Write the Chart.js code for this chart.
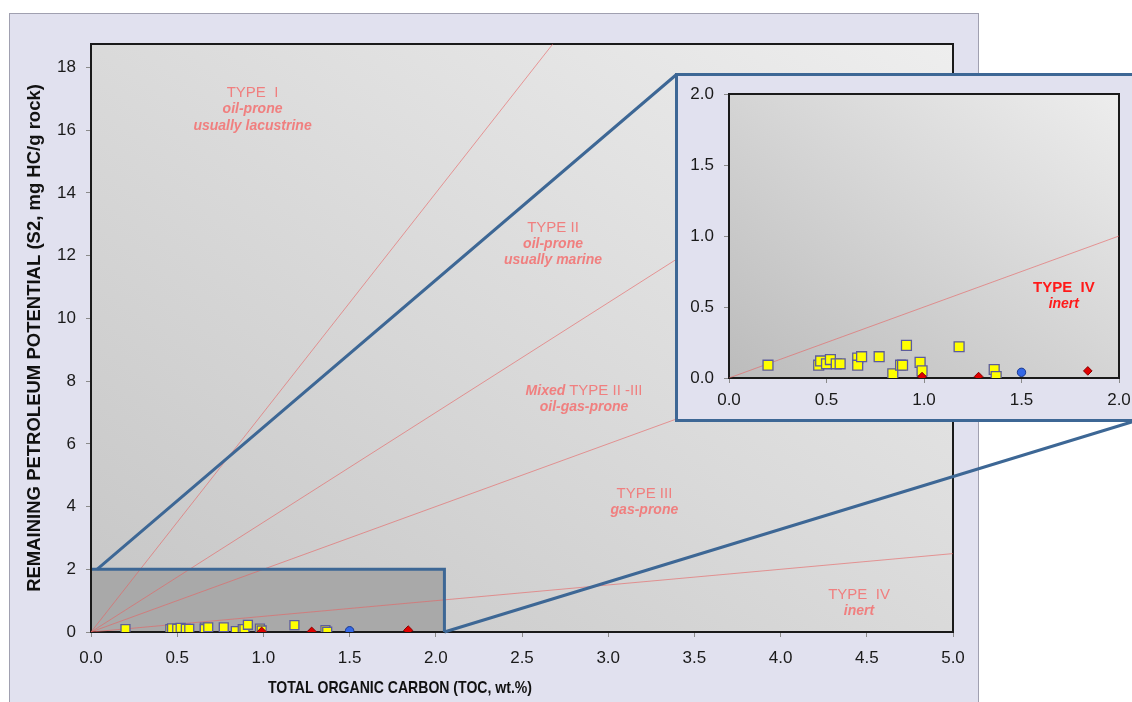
<!DOCTYPE html>
<html><head><meta charset="utf-8">
<script src="https://cdn.jsdelivr.net/npm/chart.js@4.4.1/dist/chart.umd.min.js"></script>
<style>
html,body{margin:0;padding:0;background:#fff;overflow:hidden;width:1132px;height:702px;}
#mainWrap{position:absolute;left:0;top:0;width:1132px;height:702px;}
#insetWrap{position:absolute;left:675px;top:73px;width:463px;height:349px;}
canvas{display:block;}
</style></head><body>
<div id="mainWrap"><canvas id="main" width="1132" height="702"></canvas></div>
<div id="insetWrap"><canvas id="inset" width="463" height="349"></canvas></div>
<script>
// ---------------- data ----------------
const yellowTOC = [0.20,0.46,0.47,0.50,0.52,0.55,0.57,0.66,0.66,0.68,0.77,0.84,0.88,0.89,0.91,0.98,0.99,1.18,1.36,1.37];
const yellowS2  = [0.09,0.09,0.12,0.10,0.13,0.10,0.10,0.14,0.09,0.15,0.15,0.03,0.09,0.09,0.23,0.11,0.05,0.22,0.06,0.01];
const redTOC  = [0.99,1.28,1.84];
const redS2   = [0.01,0.01,0.05];
const blueTOC = [1.50];
const blueS2  = [0.04];
// kerogen type boundary lines from the origin (end points; clipped by the plot)
const boundaryEndX = [5, 5, 5, 5];
const boundaryEndY = [35, 17.5, 10, 2.5];
// tick labels
const mainXTicks = [0,0.5,1,1.5,2,2.5,3,3.5,4,4.5,5];
const mainYTicks = [0,2,4,6,8,10,12,14,16,18];
const insetTicks = [0,0.5,1,1.5,2];
// zoomed region (data units)
const zoomBoxX = [0, 2.05];
const zoomBoxY = [0, 2.0];

const xTitle = 'TOTAL ORGANIC CARBON (TOC, wt.%)';
const yTitle = 'REMAINING PETROLEUM POTENTIAL (S2, mg HC/g rock)';

// region labels (anchor in data units)
const mainLabels = [
  {x:0.937, y:17.19, lines:[[['TYPE  I','r']],[['oil-prone','bi']],[['usually lacustrine','bi']]]},
  {x:2.68,  y:12.90, lines:[[['TYPE II','r']],[['oil-prone','bi']],[['usually marine','bi']]]},
  {x:2.86,  y:7.69,  lines:[[['Mixed ','bi'],['TYPE II -III','r']],[['oil-gas-prone','bi']]]},
  {x:3.21,  y:4.40,  lines:[[['TYPE III','r']],[['gas-prone','bi']]]},
  {x:4.455, y:1.20,  lines:[[['TYPE  IV','r']],[['inert','bi']]]}
];
const insetLabels = [
  {x:1.717, y:0.632, lines:[[['TYPE  IV','b']],[['inert','bi']]]}
];

// ---------------- helpers ----------------
const SANS = "'Liberation Sans', Arial, sans-serif";
const NARROW = "'Liberation Sans Narrow', 'Arial Narrow', 'Liberation Sans', sans-serif";
Chart.defaults.font.family = SANS;
const FONTS = {
  r: "15px " + SANS,
  b: "bold 15px " + SANS,
  bi: "italic bold 14px " + SANS
};
function pts(xs, ys){ return xs.map((v,i)=>({x:v, y:ys[i]})); }

function diagGradient(ctx, a, c0, c1){
  const W=a.right-a.left, H=a.bottom-a.top;
  const gx=1/(2*W), gy=1/(2*H);
  const g2=gx*gx+gy*gy;
  const dx=gx/g2, dy=gy/g2;
  const grad=ctx.createLinearGradient(a.left, a.bottom, a.left+dx, a.bottom-dy);
  grad.addColorStop(0,c0); grad.addColorStop(1,c1);
  return grad;
}
function drawLabels(ctx, xs, ys, labels, color, spacing){
  ctx.save();
  ctx.fillStyle=color; ctx.textBaseline='middle'; ctx.textAlign='left';
  labels.forEach(L=>{
    const cx=xs.getPixelForValue(L.x), cy0=ys.getPixelForValue(L.y);
    L.lines.forEach((segs,i)=>{
      let total=0; const ws=[];
      segs.forEach(s=>{ctx.font=FONTS[s[1]]; const w=ctx.measureText(s[0]).width; ws.push(w); total+=w;});
      let x=cx-total/2; const y=cy0+i*spacing;
      segs.forEach((s,j)=>{ctx.font=FONTS[s[1]]; ctx.fillText(s[0],x,y); x+=ws[j];});
    });
  });
  ctx.restore();
}
function pointSets(sq, dia, circ){
  return [
    {label:'blue', data:pts(blueTOC,blueS2), pointStyle:'circle', pointRadius:circ,
     backgroundColor:'#3468e6', borderColor:'#1d3a8f', borderWidth:1},
    {label:'red', data:pts(redTOC,redS2), pointStyle:'rectRot', pointRadius:dia,
     backgroundColor:'#e00000', borderColor:'#8a0000', borderWidth:1},
    {label:'yellow', data:pts(yellowTOC,yellowS2), pointStyle:'rect', pointRadius:sq,
     backgroundColor:'#ffff00', borderColor:'#5c5c9c', borderWidth:1.3}
  ];
}
function boundarySet(i){
  return {label:'b'+i, data:[{x:0,y:0},{x:boundaryEndX[i],y:boundaryEndY[i]}], showLine:true,
    borderColor:'rgba(232,96,96,0.6)', borderWidth:1, pointRadius:0, fill:false, tension:0};
}
function tickScale(values, opts){
  return Object.assign({
    type:'linear',
    afterBuildTicks:s=>{ s.ticks = values.map(v=>({value:v})); },
    grid:{display:true, drawOnChartArea:false, drawTicks:true, tickLength:5, color:'#8a8a8a', lineWidth:1},
    border:{display:false}
  }, opts);
}

// ---------------- main chart ----------------
const insetWrap = document.getElementById('insetWrap');
const mainDecor = {
  id:'mainDecor',
  beforeDraw(chart){
    const {ctx, chartArea:a, scales:{x,y}} = chart;
    ctx.save();
    ctx.fillStyle='#ffffff'; ctx.fillRect(0,0,chart.width,chart.height);
    ctx.fillStyle='#e1e1ef'; ctx.fillRect(9,13,970,700);
    ctx.strokeStyle='#a0a0b0'; ctx.lineWidth=1; ctx.strokeRect(9.5,13.5,969,700);
    ctx.fillStyle=diagGradient(ctx,a,'#c6c6c6','#eeeeee');
    ctx.fillRect(a.left,a.top,a.right-a.left,a.bottom-a.top);
    const rx0=x.getPixelForValue(zoomBoxX[0]), rx1=x.getPixelForValue(zoomBoxX[1]);
    const ry0=y.getPixelForValue(zoomBoxY[0]), ry1=y.getPixelForValue(zoomBoxY[1]);
    ctx.fillStyle='#a9a9a9'; ctx.fillRect(rx0,ry1,rx1-rx0,ry0-ry1);
    ctx.restore();
  },
  beforeDatasetsDraw(chart){
    const {ctx, chartArea:a} = chart;
    ctx.save(); ctx.strokeStyle='#1a1a1a'; ctx.lineWidth=2;
    ctx.strokeRect(a.left,a.top,a.right-a.left,a.bottom-a.top); ctx.restore();
  },
  afterDatasetsDraw(chart){
    const {ctx, scales:{x,y}} = chart;
    const rx0=x.getPixelForValue(zoomBoxX[0]), rx1=x.getPixelForValue(zoomBoxX[1]);
    const ry0=y.getPixelForValue(zoomBoxY[0]), ry1=y.getPixelForValue(zoomBoxY[1]);
    const L=insetWrap.offsetLeft, T=insetWrap.offsetTop, W=insetWrap.offsetWidth, H=insetWrap.offsetHeight;
    ctx.save();
    ctx.strokeStyle='#3d6795'; ctx.lineWidth=3; ctx.lineJoin='miter';
    ctx.beginPath();
    ctx.moveTo(rx0+1, ry1); ctx.lineTo(rx1, ry1); ctx.lineTo(rx1, ry0);
    ctx.stroke();
    ctx.beginPath();
    ctx.moveTo(rx0+6, ry1); ctx.lineTo(L+1.5, T+1.5);
    ctx.moveTo(rx1, ry0); ctx.lineTo(L+W-1.5, T+H-1.5);
    ctx.stroke();
    ctx.restore();
    drawLabels(ctx, x, y, mainLabels, '#f07f7f', 16.5);
    // x axis title
    ctx.save();
    ctx.font = "bold 17px " + NARROW;
    ctx.fillStyle='#111'; ctx.textAlign='center'; ctx.textBaseline='middle';
    const w = ctx.measureText(xTitle).width;
    const target = 264;
    ctx.translate(400, 688);
    if (w > target*1.1) ctx.scale(target/w, 1);
    ctx.fillText(xTitle, 0, 0);
    ctx.restore();
  }
};

new Chart(document.getElementById('main'), {
  type:'scatter',
  data:{datasets:[...pointSets(6.3,4.6,4.2), boundarySet(0), boundarySet(1), boundarySet(2), boundarySet(3)]},
  options:{
    responsive:false, animation:false, events:[],
    layout:{padding:{left:0, top:44, right:179, bottom:0}},
    plugins:{legend:{display:false}, tooltip:{enabled:false}},
    scales:{
      x: tickScale(mainXTicks, {min:0, max:5, position:'bottom',
        afterFit:s=>{ s.height=70; },
        ticks:{padding:11, color:'#1a1a1a', font:{family:NARROW, size:17}, maxRotation:0, autoSkip:false,
               callback:v=>Number(v).toFixed(1)}}),
      y: tickScale(mainYTicks, {min:0, max:18.75, position:'left',
        afterFit:s=>{ s.width=91; },
        title:{display:true, text:yTitle, color:'#111', font:{size:18.5, weight:'bold'}, padding:{top:24, bottom:0}},
        ticks:{padding:10, color:'#1a1a1a', font:{size:17}, autoSkip:false, callback:v=>String(v)}})
    }
  },
  plugins:[mainDecor]
});

// ---------------- inset chart ----------------
const insetDecor = {
  id:'insetDecor',
  beforeDraw(chart){
    const {ctx, chartArea:a} = chart;
    ctx.save();
    ctx.fillStyle='#e1e1ef'; ctx.fillRect(0,0,chart.width,chart.height);
    ctx.fillStyle=diagGradient(ctx,a,'#bcbcbc','#ededed');
    ctx.fillRect(a.left,a.top,a.right-a.left,a.bottom-a.top);
    ctx.strokeStyle='#3d6795'; ctx.lineWidth=3;
    ctx.strokeRect(1.5,1.5,chart.width-3,chart.height-3);
    ctx.restore();
  },
  beforeDatasetsDraw(chart){
    const {ctx, chartArea:a} = chart;
    ctx.save(); ctx.strokeStyle='#1a1a1a'; ctx.lineWidth=2;
    ctx.strokeRect(a.left,a.top,a.right-a.left,a.bottom-a.top); ctx.restore();
  },
  afterDatasetsDraw(chart){
    const {ctx, scales:{x,y}} = chart;
    drawLabels(ctx, x, y, insetLabels, '#ff1a1a', 16);
  }
};

new Chart(document.getElementById('inset'), {
  type:'scatter',
  data:{datasets:[...pointSets(7,4.3,4.2), boundarySet(3)]},
  options:{
    responsive:false, animation:false, events:[],
    layout:{padding:{left:0, top:21, right:19, bottom:0}},
    plugins:{legend:{display:false}, tooltip:{enabled:false}},
    scales:{
      x: tickScale(insetTicks, {min:0, max:2, position:'bottom',
        afterFit:s=>{ s.height=44; },
        ticks:{padding:7, color:'#1a1a1a', font:{size:17}, maxRotation:0, autoSkip:false,
               callback:v=>Number(v).toFixed(1)}}),
      y: tickScale(insetTicks, {min:0, max:2, position:'left',
        afterFit:s=>{ s.width=54; },
        ticks:{padding:10, color:'#1a1a1a', font:{size:17}, autoSkip:false,
               callback:v=>Number(v).toFixed(1)}})
    }
  },
  plugins:[insetDecor]
});
</script>
</body></html>
